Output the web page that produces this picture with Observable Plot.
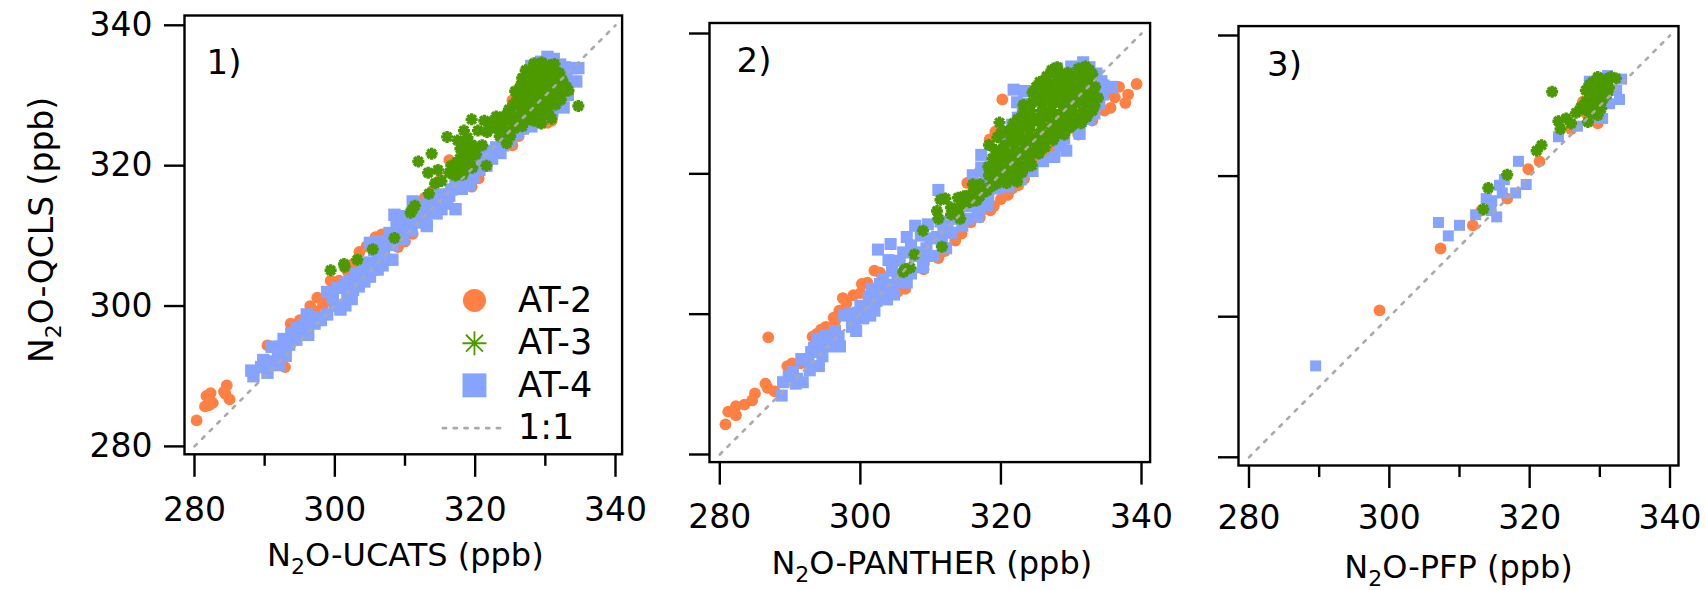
<!DOCTYPE html>
<html>
<head>
<meta charset="utf-8">
<script src="https://cdn.jsdelivr.net/npm/d3@7"></script>
<script src="https://cdn.jsdelivr.net/npm/@observablehq/plot@0.6"></script>
<style>
html,body{margin:0;padding:0;background:#fff;}
#chart{position:relative;width:1707px;height:590px;overflow:hidden;}
#chart svg{position:absolute;top:0;max-width:none;background:transparent;}
</style>
</head>
<body>
<div id="chart"></div>
<script>
const majorTicks = [280, 300, 320, 340];
const minorTicks = [290, 310, 330];
const oneToOne = [280, 340];
const orange = "#ff8042", green = "#4c9900", blue = "#85a3ff";

const p1AT2 = [[280.3,283.7],[281.5,285.7],[281.7,287.2],[282.3,287.6],[282.6,286.2],[282.1,285.9],[284.2,287.8],[284.6,288.7],[285,286.7],[284.4,287.5],[292.9,291.3],[290.4,294.4],[293.7,297.5],[297.1,299.3],[297.5,301.2],[298.3,300.1],[298.9,300.7],[299.4,303.6],[300.6,303.6],[301.8,305],[302.6,306],[303.5,307.7],[305.8,309.8],[306.7,310.2],[309,308.4],[311.1,310.3],[312.8,315.4],[316.3,320.8],[319.5,317],[325.3,322.9],[326.2,324.2],[330.3,326.1],[330.9,326.4],[325.3,329.3],[295,298],[296.5,300],[304.5,308.5],[307.5,310.4],[310,309.2],[314,316.5],[315,318],[318.5,318],[320.5,318.2],[327,325.2],[328.5,326.5]];
const p1AT4 = [[288.1,290.8],[288.4,290],[289.5,291.3],[290.4,290.5],[291,292.1],[291,294.2],[291.9,293.2],[292.7,295.3],[293,292.9],[293.8,296.1],[295.4,296.4],[296.2,295.9],[296,298.8],[297.1,297.5],[298.9,298.8],[298.9,302],[299.7,301.2],[301.5,300.1],[301.8,301.7],[302.6,302.3],[302.1,303.6],[303.5,303.9],[305,304.2],[306.1,305.2],[305,309],[308.2,306.6],[307,307.6],[308.2,308.7],[306.1,309.2],[308.5,313],[309.6,310.9],[308.8,311.7],[310.5,311.9],[311.1,314.9],[313.1,311.4],[312.2,313],[313.9,314.3],[313.4,315.1],[315.2,313.8],[317.2,313.8],[316.3,315.7],[318.1,316.7],[319.8,318.4],[319.2,317.3],[321.6,320],[323.6,321.8],[322.1,322.1],[320.4,322.1],[326.8,325.3],[328,325.6],[330.3,335.5],[332.1,334.4],[333.8,333.9],[334.7,333.9],[334.4,332],[333.2,330.1],[332.6,328.3],[329.7,326.9],[328,334.2],
[289.8,292.3],[290.8,291.6],[292,291.6],[292.2,294.2],[293.5,294.5],[294.5,295.2],[294.6,296.9],[295.6,297.3],[297.2,298.4],[298,298],[300,300],[300.5,302.6],[300.8,299.5],[301.6,303.2],[302.4,301],[303,304.6],[303.4,302.8],[304.2,303.5],[304,305.6],[304.8,306.2],[305.4,305.2],[306.2,306.8],[306.8,305.8],[305.6,308],[307.2,309.2],[307.8,310.4],[308.4,309.8],[309.2,312.4],[310,312.8],[309.8,309.6],[311,313.2],[310.9,310.8],[311.8,311.9],[312,314.2],[312.9,312.6],[313.2,313.8],[314.2,315.4],[314.5,313.2],[315,315.9],[316,314.6],[316.6,316.6],[317.2,318],[318,318.2],[318.6,317.5],[319,318.9],[320,320],[320.6,319.4],[321,321.2],[322.4,321],[323,322.6],[324,322.9],[324.8,323.4],[325.2,324.2],[326,324.6],[327,326.4],[328,326.6],[329,326.2],[330,327.4],[331,327.8],[331.8,329.2],[332.4,330.6],[333,332.6],[332.8,334],[331.2,335.2],[329.4,334.8],[327,331],[327,329],[326.4,327.5]];
const p1AT3 = [[299.4,305.1],[301.3,306],[301.4,305.6],[303.2,306.6],[305.4,308.1],[308.5,309.7],[310.8,313.3],[311.4,314.3],[311.1,313.8],[311.9,320.6],[313.8,321.7],[313.4,316],[313.3,319],[314.7,319.4],[314.3,317.5],[316,324.1],[315.2,317.8],[317.2,318.6],[316.6,320],[317.8,321],[318.4,325],[318.4,323.2],[318.6,322.1],[319.2,320.5],[320.1,321.6],[321,322.9],[321.6,320],[319.5,326.6],[321.3,326.4],[320.4,325],[323,327],[322.1,325.3],[324.5,323.2],[324.8,328],[325.6,325.3],[323.9,325.9],[329.4,326],[330.9,326.7],[334.7,328.5],
[317.5,319.5],[318,320.2],[318.5,319.4],[318.9,321.3],[319.6,319.7],[317.9,322.4],[318.9,324],[319.5,323],[320,322.6],[317.5,323.6],[316.7,318.9],[317.4,320.5],[316.3,319],[318.2,318.7],[322.5,326.3],[321.7,324.8],[324,327],[325,326.4],[325.1,327.4],[323.3,325.2],[324.4,325],[323.5,324.2],[325,324.2],[326,326.7],[326.7,325.6],[325.4,328.7],[326,329.5],[325.7,330.6],
[328.4,334.6],[329.5,334.7],[330.6,334.3],[331.3,334.5],[327.2,333.6],[328.1,333.4],[329.1,333.7],[330.1,333.3],[331,333.6],[332,333.2],[326.7,332.5],[327.6,332.7],[328.5,332.3],[329.6,332.6],[330.4,332.4],[331.6,332.5],[332.4,332.2],[326.5,331.5],[327.4,331.3],[328.6,331.6],[329.4,331.4],[330.6,331.5],[331.4,331.3],[332.6,331.6],[333,331.2],[326.7,330.4],[327.6,330.6],[328.4,330.5],[329.6,330.3],[330.4,330.6],[331.6,330.4],[332.5,330.5],[333.3,330.7],[326.8,329.5],[327.4,329.4],[328.6,329.6],[329.4,329.3],[330.6,329.5],[331.4,329.6],[332.2,329.4],[326.4,328.6],[327.6,328.4],[328.4,328.6],[329.6,328.3],[330.4,328.5],[331.5,328.7],[326.6,327.5],[327.4,327.4],[328.6,327.6],[329.5,327.4],[330.4,327.6],[327.6,326.6],[328.4,326.4],[329.2,326.6]];

const p2AT2 = [[280.8,284.3],[281.2,286.1],[282.3,285.6],[282.3,286.9],[283.5,287.1],[284.6,287.7],[285,288.7],[286.9,296.7],[286.5,290.1],[286.8,289.5],[287.8,289],[289.6,292.6],[290.3,293],[293.2,296.8],[294.4,297.8],[295.1,298.2],[296.4,299],[297,300.5],[297.5,302.3],[299,302.7],[300.2,304.3],[302,306.2],[302.8,305.9],[305.3,303.2],[311.1,308],[314.4,311.5],[315.7,313.1],[318.5,314.8],[320,316.4],[321.6,317.9],[315.2,318.7],[323.3,319.3],[324.1,320.6],[325.1,322],[318.4,324.9],[320.2,330.6],[339.3,332.8],[338.1,331.3],[337.7,330.1],[336.2,330.9],[334.7,329],
[291.5,293],[293.8,297.2],[296.2,299.5],[298,301.5],[300,303],[301,304.5],[303.2,304.5],[304,303],[306.4,303.6],[309,306.4],[312,309],[313.5,310.5],[317,313.8],[319,315.4],[321,317],[322.5,318.4],[326.3,323],[327.8,323.6],[331,325.6],[333,327.6],[335.6,329.4],[335.2,331.6],[336.8,332.4],[317,320.4],[319.2,326]];
const p2AT4 = [[288.8,288.4],[289,290.3],[289.8,291.1],[290.8,290.1],[291.8,290.3],[291.6,293.6],[292.6,293.6],[294.1,292.6],[293.4,295.2],[293.9,296.5],[295.1,297],[295.4,295.4],[296.4,297.6],[297.1,295.4],[296.9,296.8],[299.4,297.6],[299.2,298.6],[299.7,300.2],[298.4,300.1],[301.2,302.4],[302,300.5],[302.3,301.9],[302.8,304.3],[303.8,302.1],[304,307.7],[302.5,309.2],[304.3,310],[305.3,305.6],[306.6,304.5],[306.6,311],[306.1,308.8],[307.8,312.6],[308.9,306.7],[307.8,308.3],[309.4,309.4],[309.6,312.8],[310.4,308.3],[311.1,317.7],[310.9,311],[312.2,309.4],[312.4,312.6],[314.5,312.6],[316.7,313.9],[318,315.5],[317.2,322.7],[316,319.8],[317.2,320.9],[319.5,317.9],[321.1,318.2],[321.8,332],[322.3,330.2],[323.3,331.8],[323.1,329.2],[321.6,327],[320.6,326],[329.3,323.3],[331.2,325.7],[328.4,324.1],[331.7,335.9],[334.3,333.2],[335.8,332.4],[333.3,328.6],[334.5,331.3],
[290.4,291.8],[291,290.8],[292.8,292],[293,294.6],[294.4,295.2],[294.6,294],[295.6,296.6],[296,296.2],[297.7,299.8],[298.8,298.2],[300,301.2],[300.4,299.4],[300.6,300.8],[301.6,303.6],[301.4,299.8],[303,303.2],[303.2,305],[304.3,304.2],[304.5,306.2],[304.8,302.8],[305.6,307.6],[305.8,304.6],[306.4,306.2],[307.2,309.8],[307.2,305.8],[308.4,308.8],[308.6,311.2],[309,307.7],[310,310.8],[311.6,310.4],[311.4,313.2],[311.8,312],[313,311.6],[313.4,313.6],[314,315],[315.2,313.6],[315.5,315.4],[316.6,316.8],[317,315],[318.2,316.5],[318.5,318.2],[317.8,319.4],[319.2,321],[320,319.4],[320,323],[320.5,324.6],[321,322],[322,325.6],[322.4,328],[323.5,327],[324,330],[322.8,319.2],[324.5,320.4],[326,321.8],[327.6,322.4],[329,325],[330.2,326.6],[331.4,327.5],[332.6,327.8],[334,330],[334.6,332.6],[333.6,334.3],[332.6,335.2],[330,335.3],[328,335]];
const p2AT3 = [[306.4,306.4],[307.1,306.6],[306.1,306],[307.7,308.5],[308.9,311.9],[311.6,309.6],[310.9,314.7],[311.1,313.6],[312.1,316.5],[312.9,315.2],[314.2,313.6],[313.9,316.6],[315,315.8],[316.2,317.4],[317,318.5],[318.3,319.8],[318.8,322.2],[318.3,324.1],[319.5,325.2],[319.8,327.3],[316.5,316.2],[318,317.6],[319.4,318.6],[320.8,318.7],[322.3,318.9],
[319,320.1],[320.5,320.4],[322,320],[323,320.2],[319.5,322.1],[321,321.8],[322.5,322.2],[324,321.9],[325.4,322.9],[320.5,324],[322,324.2],[323.5,323.9],[325,324.1],[326,324],[327.4,324.8],[321,326.1],[322.5,325.9],[324,326.2],[325.5,325.8],[327,326],[328,326.2],[329.8,326.6],[322.4,327.8],[323.5,328.1],[325,327.9],[326.5,328.2],[328,328],[329.5,328.1],[331,327.9],[332.2,328.1],[323.2,329.8],[324.5,330.2],[326,329.9],[327.5,330.1],[329,329.8],[330.5,330.2],[332,329.9],[333.3,329.7],[324.5,331.6],[326,331.4],[327.5,331.6],[329,331.4],[330.5,331.6],[332,331.4],[333,331.6],[325.5,333.1],[327,332.9],[328.5,333.1],[330,332.9],[331.5,333.1],[332.5,332.9],[327.2,334.8],[328.2,334.3],[329.5,334.4],[331,334.4],[332.6,334.8],
[313.4,314.8],[314.4,315.4],[315.6,316],[316.4,317],[317,316.8],[317.5,317.5],[318.6,318.2],[319.2,319.4],[320,319.8],[320.8,319.6],[321.6,319.4],[318.2,321],[319.1,320.6],[320,321],[320.8,321.2],[321.6,321],[322.6,321],[323.6,321],[324.4,321.2],[319.2,323.4],[320.2,323],[321.2,322.8],[322.2,323],[323.2,323],[324.2,322.9],[325.2,323],[326.3,323.8],[320,325.8],[321.5,325],[322.8,325],[324,325],[325.2,325],[326.4,325],[327.6,325.2],[329,325.6],[321.8,327.2],[322.8,327],[324.2,327],[325.8,327],[327.2,327],[328.8,327],[330.2,327],[331.4,327.2],[323.2,328.8],[324.2,329],[325.8,329],[327.2,329],[328.8,329],[330.2,329],[331.6,329],[333,329],[325,330.6],[326.6,330.6],[328.2,330.6],[329.8,330.6],[331.2,330.6],[332.6,330.6],[333.8,330.8],[325,332.4],[326.4,332.2],[327.8,332.2],[329.3,332.2],[330.8,332.2],[332.2,332.2],[333.4,332.4],[326.5,333.9],[328,333.9],[329.3,333.9],[330.6,333.9],[332,333.9],[333,334.2],[328,335.2],[331,335],[332,335.3],
[314.5,315.8],[315.5,317],[316.5,316.3],[317.5,317.4],[316,318.5],[319,319],[319.5,320.6],[312.9,314.2],[313.9,314.4],[314.7,316.8],[311.4,316.3]];

const p3AT2 = [[298.6,300.9],[307.3,309.7],[311.9,313],[313.1,315.1],[316.8,316.8],[319.8,321],[321.4,322.1],[325.9,326.7],[329.7,327.5],[327.6,330.6],[328.5,331.4],[329.2,329.5],[328,329],[328.8,330.8]];
const p3AT4 = [[289.5,293],[307,313.4],[308.4,311.5],[310,313],[312.3,314.5],[313.8,316.8],[314.6,316.5],[314.5,315.1],[315.3,314.2],[315.7,318.7],[316.4,319.5],[316.1,317.6],[318,317.6],[318.4,322.1],[319.5,318.8],[324.1,325.6],[326.8,327.1],[330.4,328.2],[329.5,328.2],[332.8,330.9],[333.1,333.8],[331.1,334.3],[332.4,332.2],[331.4,330.3],[328.5,333.5]];
const p3AT3 = [[323.2,332],[321.7,324.4],[321,323.6],[316.8,320.2],[314.1,318.3],[313.4,315.3],[324.1,327.8],[325.2,328.2],[324.4,326.7],[325.9,327.5],[328.3,327.7],[326.6,329],[327.3,329.8],[328,330.6],[328.5,333],[329,331.9],[329.7,334.1],[330.2,333],[330.9,333.8],[331.6,334.1],[332.3,333.9],[329.7,331.1],[330.7,332.2],[329.5,329.8],[329.7,328.7],[328.5,329.3],[330.4,330.9],[329,330.6],[331.3,332.5],[328,329.4],
[328,332.2],[328.8,332],[329.4,332.9],[330,332],[330.4,333.6],[331,333],[329,333.4],[329.4,330],[330,330.2],[328.6,330],[327.8,330],[330.6,331.4],[329,329],[330.2,329.6],[331,331.6]];

const legendItems = ["AT-2", "AT-3", "AT-4", "1:1"];
const legendY = [300.8, 294.7, 288.7, 282.6];
const legendMarkX = 319.9, legendTextX = 326.1;
const legendLineX = [315.4, 323.6];

const star = {draw(c, size){
  const r = Math.sqrt(size / Math.PI), d = r * Math.SQRT1_2;
  c.moveTo(-r,0); c.lineTo(r,0); c.moveTo(0,-r); c.lineTo(0,r);
  c.moveTo(-d,-d); c.lineTo(d,d); c.moveTo(-d,d); c.lineTo(d,-d);
}};

const font = "'DejaVu Sans', sans-serif";
const panels = [
 {tag:"1)", tagDx:22, tagDy:34.5, xPad:20, squareR:7, xlabel:"N₂O-UCATS (ppb)", xDx:2, ylabel:"N₂O-QCLS (ppb)", left:184, right:621.6, top:15, bottom:453.8, x0:194, x1:615, y340:24.8, y280:445.9, at2:p1AT2, at3:p1AT3, at4:p1AT4, minor:true, labels:true, legend:true},
 {tag:"2)", tagDx:27, tagDy:24.5, xPad:19, squareR:6.8, xlabel:"N₂O-PANTHER (ppb)", xDx:2, left:709, right:1149.6, top:22.5, bottom:461.6, x0:719.3, x1:1141, y340:33, y280:454, at2:p2AT2, at3:p2AT3, at4:p2AT4, minor:false},
 {tag:"3)", tagDx:28.5, tagDy:25.5, xPad:17, squareR:6.2, xlabel:"N₂O-PFP (ppb)", xDx:0, left:1237.5, right:1677.5, top:25.6, bottom:465, x0:1248, x1:1669, y340:35, y280:456.8, at2:p3AT2, at3:p3AT3, at4:p3AT4, minor:true}
];

const chart = document.getElementById("chart");
for (const p of panels) {
  const sx = (p.x1 - p.x0) / 60, sy = (p.y280 - p.y340) / 60;
  const xDomain = [280 - (p.x0 - p.left) / sx, 340 + (p.right - p.x1) / sx];
  const yDomain = [280 - (p.bottom - p.y280) / sy, 340 + (p.y340 - p.top) / sy];
  const marks = [
    Plot.dot(p.at2, {x:d=>d[0], y:d=>d[1], r:5.9, fill:orange}),
    Plot.dot(p.at4, {x:d=>d[0], y:d=>d[1], r:p.squareR, symbol:"square", fill:blue}),
    Plot.dot(p.at3, {x:d=>d[0], y:d=>d[1], r:6, symbol:star, stroke:green, strokeWidth:3.4}),
    Plot.line(oneToOne, {x:d=>d, y:d=>d, stroke:"#aaa", strokeWidth:2.6, strokeDasharray:"3.2 7.6"}),
    Plot.frame({stroke:"#000", strokeWidth:2.4}),
    Plot.axisX({ticks:majorTicks, tickSize:23, tickPadding:p.xPad, stroke:"#000", strokeWidth:2.4, fontSize:33, fontFamily:font, fill:"#000", label:null}),
    Plot.axisY({ticks:majorTicks, tickSize:20, tickPadding:12, stroke:"#000", strokeWidth:2.4, fontSize:33, fontFamily:font, fill:"#000", label:null, tickFormat: p.labels ? undefined : ()=>""}),
    Plot.text([p.tag], {text:d=>d, frameAnchor:"top-left", dx:p.tagDx, dy:p.tagDy, fontSize:34, fontFamily:font, fill:"#000", textAnchor:"start", lineAnchor:"top"}),
    Plot.text([p.xlabel], {text:d=>d, frameAnchor:"bottom", dx:p.xDx, dy:112, fontSize:32, fontFamily:font, fill:"#000"})
  ];
  if (p.minor) marks.push(Plot.axisX({ticks:minorTicks, tickSize:12, stroke:"#000", strokeWidth:2.4, tickFormat:()=>"", label:null}));
  if (p.ylabel) marks.push(Plot.text([p.ylabel], {text:d=>d, frameAnchor:"left", dx:-142, dy:-5, rotate:-90, textAnchor:"middle", fontSize:33, fontFamily:font, fill:"#000"}));
  if (p.legend) {
    marks.push(
      Plot.dot([legendMarkX], {x:d=>d, y:()=>legendY[0], r:11.5, fill:orange}),
      Plot.dot([legendMarkX], {x:d=>d, y:()=>legendY[1], r:12, symbol:star, stroke:green, strokeWidth:1.8}),
      Plot.dot([legendMarkX], {x:d=>d, y:()=>legendY[2], r:13.5, symbol:"square", fill:blue}),
      Plot.line(legendLineX, {x:d=>d, y:()=>legendY[3], stroke:"#aaa", strokeWidth:2.6, strokeDasharray:"3.2 7.6"}),
      Plot.text(legendItems, {x:()=>legendTextX, y:(d,i)=>legendY[i], text:d=>d, textAnchor:"start", fontSize:35, fontFamily:font, fill:"#000"})
    );
  }
  const width = 560;
  const offset = p.left - 184;
  const svg = Plot.plot({
    width, height:590,
    marginLeft:184, marginRight:width - (p.right - offset),
    marginTop:p.top, marginBottom:590 - p.bottom,
    style:{background:"transparent", overflow:"visible"},
    x:{domain:xDomain, axis:null},
    y:{domain:yDomain, axis:null},
    marks
  });
  svg.style.left = offset + "px";
  // real subscript for the "2" in N2O
  svg.querySelectorAll("text").forEach(t => {
    if (!t.textContent.includes("₂")) return;
    const [a,b] = t.textContent.split("₂");
    t.textContent = "";
    const ns = "http://www.w3.org/2000/svg";
    const s1 = document.createElementNS(ns,"tspan"); s1.textContent = a; t.appendChild(s1);
    const s2 = document.createElementNS(ns,"tspan"); s2.textContent = "2"; s2.setAttribute("dy","8"); s2.setAttribute("font-size","22"); t.appendChild(s2);
    const s3 = document.createElementNS(ns,"tspan"); s3.textContent = b; s3.setAttribute("dy","-8"); t.appendChild(s3);
  });
  chart.appendChild(svg);
}
</script>
</body>
</html>
